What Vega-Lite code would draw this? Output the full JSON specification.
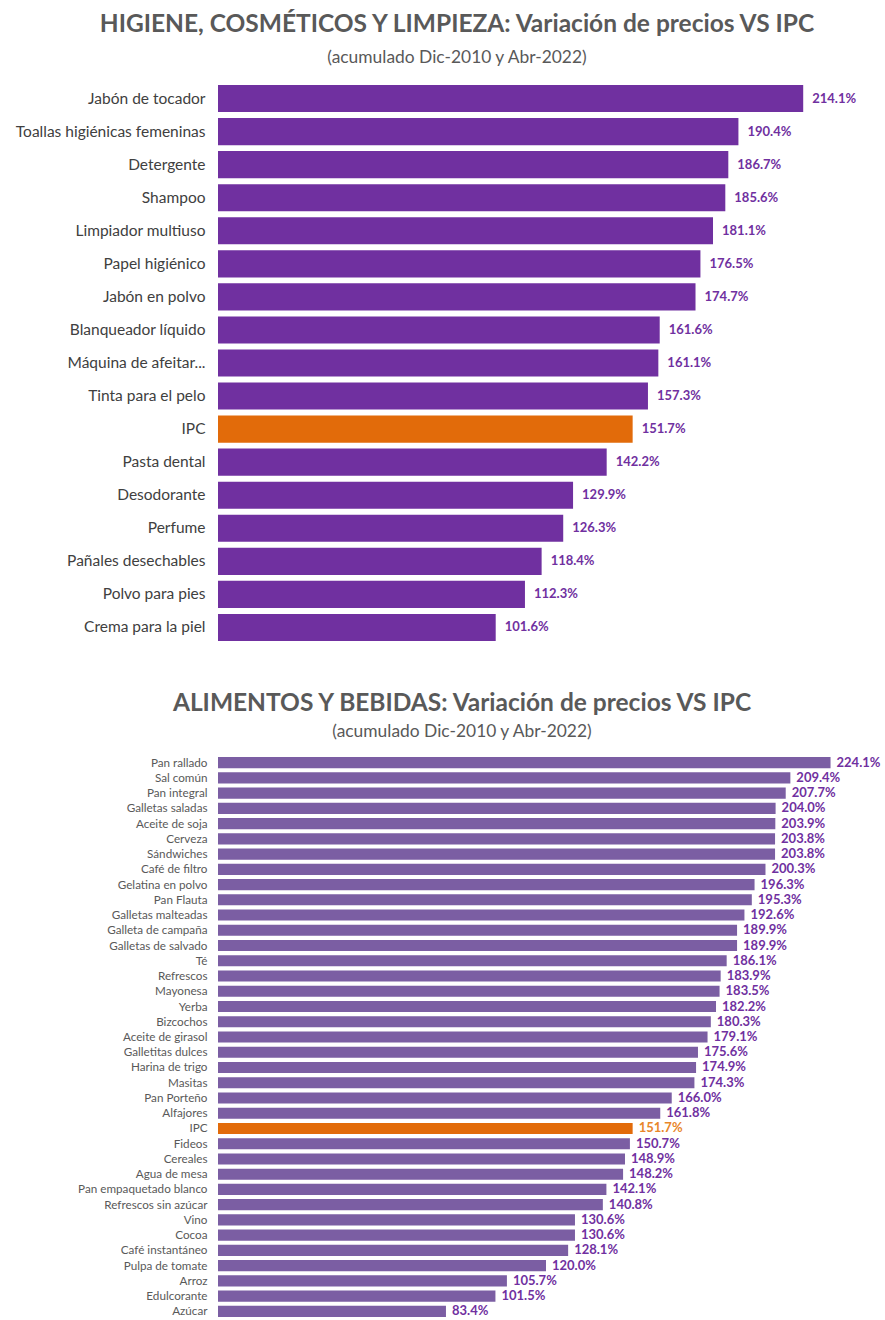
{
  "$schema": "https://vega.github.io/schema/vega-lite/v6.json",
  "padding": {"left": 8, "top": 12, "right": 0, "bottom": 0},
  "background": "white",
  "spacing": 47,
  "config": {
    "view": {"stroke": null},
    "font": "Lato",
    "title": {"font": "Lato", "subtitleFont": "Lato"}
  },
  "datasets": {
    "higiene": [
      {"item": "Jabón de tocador", "v": 2.141},
      {"item": "Toallas higiénicas femeninas", "v": 1.904},
      {"item": "Detergente", "v": 1.867},
      {"item": "Shampoo", "v": 1.856},
      {"item": "Limpiador multiuso", "v": 1.811},
      {"item": "Papel higiénico", "v": 1.765},
      {"item": "Jabón en polvo", "v": 1.747},
      {"item": "Blanqueador líquido", "v": 1.616},
      {"item": "Máquina de afeitar...", "v": 1.611},
      {"item": "Tinta para el pelo", "v": 1.573},
      {"item": "IPC", "v": 1.517},
      {"item": "Pasta dental", "v": 1.422},
      {"item": "Desodorante", "v": 1.299},
      {"item": "Perfume", "v": 1.263},
      {"item": "Pañales desechables", "v": 1.184},
      {"item": "Polvo para pies", "v": 1.123},
      {"item": "Crema para la piel", "v": 1.016}
    ],
    "alimentos": [
      {"item": "Pan rallado", "v": 2.241},
      {"item": "Sal común", "v": 2.094},
      {"item": "Pan integral", "v": 2.077},
      {"item": "Galletas saladas", "v": 2.040},
      {"item": "Aceite de soja", "v": 2.039},
      {"item": "Cerveza", "v": 2.038},
      {"item": "Sándwiches", "v": 2.038},
      {"item": "Café de filtro", "v": 2.003},
      {"item": "Gelatina en polvo", "v": 1.963},
      {"item": "Pan Flauta", "v": 1.953},
      {"item": "Galletas malteadas", "v": 1.926},
      {"item": "Galleta de campaña", "v": 1.899},
      {"item": "Galletas de salvado", "v": 1.899},
      {"item": "Té", "v": 1.861},
      {"item": "Refrescos", "v": 1.839},
      {"item": "Mayonesa", "v": 1.835},
      {"item": "Yerba", "v": 1.822},
      {"item": "Bizcochos", "v": 1.803},
      {"item": "Aceite de girasol", "v": 1.791},
      {"item": "Galletitas dulces", "v": 1.756},
      {"item": "Harina de trigo", "v": 1.749},
      {"item": "Masitas", "v": 1.743},
      {"item": "Pan Porteño", "v": 1.660},
      {"item": "Alfajores", "v": 1.618},
      {"item": "IPC", "v": 1.517},
      {"item": "Fideos", "v": 1.507},
      {"item": "Cereales", "v": 1.489},
      {"item": "Agua de mesa", "v": 1.482},
      {"item": "Pan empaquetado blanco", "v": 1.421},
      {"item": "Refrescos sin azúcar", "v": 1.408},
      {"item": "Vino", "v": 1.306},
      {"item": "Cocoa", "v": 1.306},
      {"item": "Café instantáneo", "v": 1.281},
      {"item": "Pulpa de tomate", "v": 1.200},
      {"item": "Arroz", "v": 1.057},
      {"item": "Edulcorante", "v": 1.015},
      {"item": "Azúcar", "v": 0.834}
    ]
  },
  "vconcat": [
    {
      "data": {"name": "higiene"},
      "width": 656,
      "height": 562,
      "title": {
        "text": "HIGIENE, COSMÉTICOS Y LIMPIEZA: Variación de precios VS IPC",
        "subtitle": "(acumulado Dic-2010 y Abr-2022)",
        "anchor": "middle",
        "frame": "group",
        "dx": -89,
        "fontSize": 24.5,
        "fontWeight": "bold",
        "color": "#595959",
        "subtitleFontSize": 17.4,
        "subtitleColor": "#595959",
        "subtitleFontWeight": "normal",
        "subtitlePadding": 11,
        "offset": 15
      },
      "encoding": {
        "y": {
          "field": "item", "type": "nominal", "sort": null,
          "scale": {"paddingInner": 0.18, "paddingOuter": 0.09},
          "axis": {"title": null, "domain": false, "ticks": false, "labelPadding": 13, "labelFontSize": 15.5, "labelColor": "#404040", "labelFont": "Lato", "labelLimit": 230, "minExtent": 210, "maxExtent": 210}
        },
        "x": {
          "field": "v", "type": "quantitative",
          "scale": {"domain": [0, 2.4]},
          "axis": null
        }
      },
      "layer": [
        {
          "mark": {"type": "bar"},
          "encoding": {
            "color": {"condition": {"test": "datum.item === 'IPC'", "value": "#E26B0A"}, "value": "#7030A0"}
          }
        },
        {
          "mark": {"type": "text", "align": "left", "baseline": "middle", "dx": 9, "fontSize": 13, "fontWeight": "bold", "font": "Lato", "color": "#7030A0"},
          "encoding": {
            "text": {"field": "v", "type": "quantitative", "format": ".1%"}
          }
        }
      ]
    },
    {
      "data": {"name": "alimentos"},
      "width": 656,
      "height": 564,
      "title": {
        "text": "ALIMENTOS Y BEBIDAS:  Variación de precios VS IPC",
        "subtitle": "(acumulado Dic-2010 y Abr-2022)",
        "anchor": "middle",
        "frame": "group",
        "dx": -84,
        "fontSize": 24.5,
        "fontWeight": "bold",
        "color": "#595959",
        "subtitleFontSize": 17.4,
        "subtitleColor": "#595959",
        "subtitleFontWeight": "normal",
        "subtitlePadding": 6,
        "offset": 14
      },
      "encoding": {
        "y": {
          "field": "item", "type": "nominal", "sort": null,
          "scale": {"paddingInner": 0.27, "paddingOuter": 0.135},
          "axis": {"title": null, "domain": false, "ticks": false, "labelPadding": 11, "labelFontSize": 11.7, "labelColor": "#595959", "labelFont": "Lato", "labelLimit": 230, "minExtent": 210, "maxExtent": 210}
        },
        "x": {
          "field": "v", "type": "quantitative",
          "scale": {"domain": [0, 2.4]},
          "axis": null
        }
      },
      "layer": [
        {
          "mark": {"type": "bar"},
          "encoding": {
            "color": {"condition": {"test": "datum.item === 'IPC'", "value": "#E26B0A"}, "value": "#7B5EA3"}
          }
        },
        {
          "mark": {"type": "text", "align": "left", "baseline": "middle", "dx": 6, "fontSize": 13, "fontWeight": "bold", "font": "Lato"},
          "encoding": {
            "text": {"field": "v", "type": "quantitative", "format": ".1%"},
            "color": {"condition": {"test": "datum.item === 'IPC'", "value": "#E8862A"}, "value": "#7030A0"}
          }
        }
      ]
    }
  ]
}
